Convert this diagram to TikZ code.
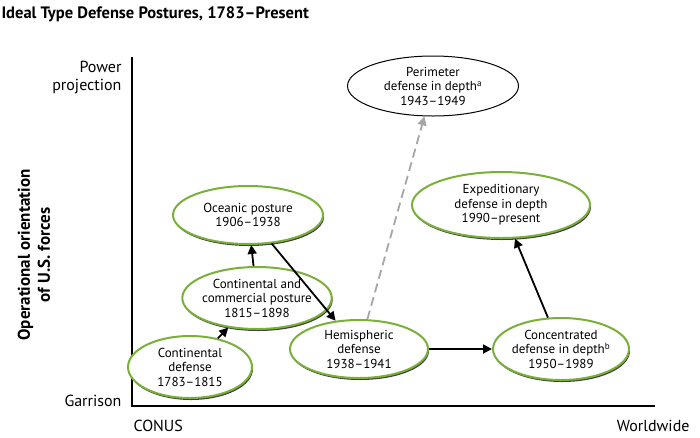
\documentclass[tikz,border=0pt]{standalone}
\usepackage{fontspec}
\setmainfont{PT Sans}
\usetikzlibrary{shapes.geometric,arrows.meta,shadows}
\definecolor{grn}{RGB}{122,176,58}
\tikzset{
 post/.style={ellipse,draw=grn,line width=2pt,fill=white,align=center,inner sep=-2pt,font=\fontsize{13}{14.5}\selectfont,
   drop shadow={shadow xshift=1pt,shadow yshift=-2pt,fill=black!75,opacity=1}},
 postk/.style={ellipse,draw=black,line width=1pt,fill=white,align=center,inner sep=-2pt,font=\fontsize{13}{14.5}\selectfont},
 arr/.style={line width=1.8pt,-{Triangle[length=9pt,width=9pt]}},
 lab/.style={font=\fontsize{16}{18}\selectfont},
}
\begin{document}
\begin{tikzpicture}[x=1pt,y=-1pt]
\useasboundingbox (0,0) rectangle (700,437);
\node[anchor=west,font=\bfseries\fontsize{16.5}{18}\selectfont] (title) at (-2,14) {Ideal Type Defense Postures, 1783--Present};
\draw[line width=2.4pt] (132,57) -- (132,406) -- (655,406);
\node[lab,align=right,anchor=east] (pp) at (125,78) {Power\\projection};
\node[lab,anchor=east] (gar) at (125,401) {Garrison};
\node[lab,anchor=west] (conus) at (130,426) {CONUS};
\node[lab,anchor=east] (ww) at (693,426) {Worldwide};
\node[lab,font=\bfseries\fontsize{17}{20}\selectfont,align=center,rotate=90] (yax) at (34,255) {Operational orientation\\of U.S. forces};

\node[post,minimum width=124pt,minimum height=62pt] (cd) at (190,367) {Continental\\defense\\1783--1815};
\node[post,minimum width=146pt,minimum height=62pt] (cc) at (257,298) {Continental and\\commercial posture\\1815--1898};
\node[post,minimum width=150pt,minimum height=58pt] (oc) at (248,215) {Oceanic posture\\1906--1938};
\node[post,minimum width=138pt,minimum height=58pt] (he) at (359,349) {Hemispheric\\defense\\1938--1941};
\node[postk,minimum width=171pt,minimum height=60pt] (pe) at (433,86) {Perimeter\\defense in depth\textsuperscript{a}\\1943--1949};
\node[post,minimum width=178pt,minimum height=66pt] (ex) at (501,205) {Expeditionary\\defense in depth\\1990--present};
\node[post,minimum width=136pt,minimum height=62pt] (co) at (561,349) {Concentrated\\defense in depth\textsuperscript{b}\\1950--1989};

\draw[arr] (cd) -- (cc);
\draw[arr] (cc) -- (oc);
\draw[arr] (oc) -- (he);
\draw[arr] (he) -- (co);
\draw[arr] (co) -- (ex);
\draw[arr,draw=black!35,dash pattern=on 9pt off 5pt,-{Triangle[length=9pt,width=9pt,fill=black!35]}] (he) -- (pe);
\end{tikzpicture}
\end{document}
